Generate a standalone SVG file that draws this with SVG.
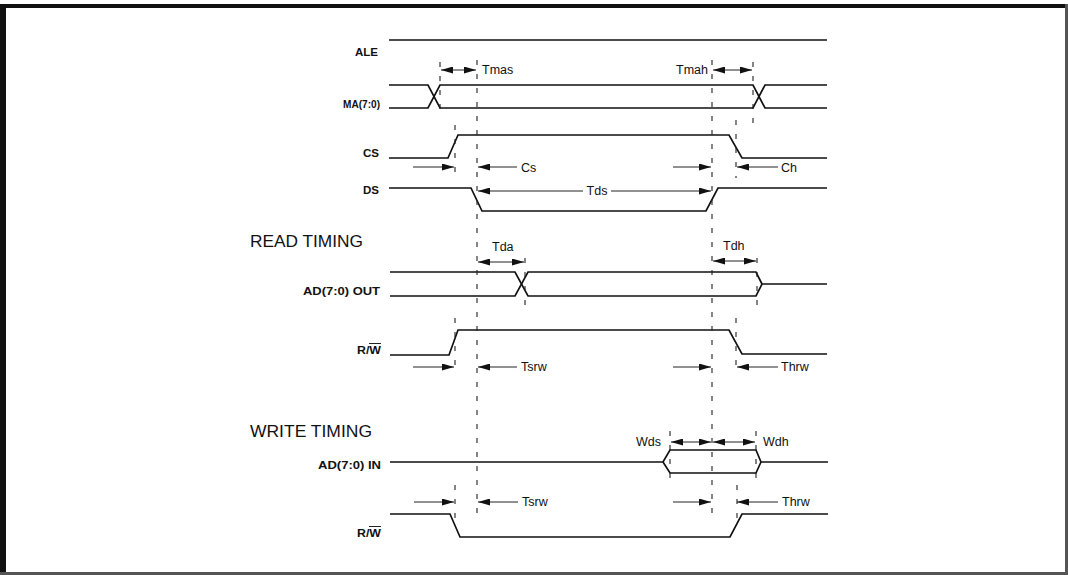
<svg xmlns="http://www.w3.org/2000/svg" width="1068" height="575" viewBox="0 0 1068 575">
<style>
.wave{fill:none;stroke:#111;stroke-width:1.7}
.dash{fill:none;stroke:#222;stroke-width:1.1;stroke-dasharray:5 9}
.dim{fill:none;stroke:#222;stroke-width:1}
.sig{font-family:"Liberation Sans",Arial,sans-serif;font-size:11px;font-weight:bold;fill:#111;text-anchor:end}
.lbl{font-family:"Liberation Sans",Arial,sans-serif;font-size:12.5px;fill:#111}
.hdr{font-family:"Liberation Sans",Arial,sans-serif;font-size:16.5px;fill:#111}
</style>
<defs>
<marker id="ah" viewBox="0 0 12 7" refX="12" refY="3.5" markerWidth="12" markerHeight="7" markerUnits="userSpaceOnUse" orient="auto-start-reverse">
<path d="M0,0 L12,3.5 L0,7 z" fill="#111"/>
</marker>
</defs>
<rect x="0" y="0" width="1068" height="575" fill="#fff"/>
<g id="border">
<rect x="0" y="4" width="1068" height="4" fill="#111"/>
<rect x="0" y="4" width="6" height="571" fill="#111"/>
<rect x="1065" y="4" width="3" height="571" fill="#555"/>
<rect x="0" y="572" width="1068" height="3" fill="#555"/>
</g>
<g id="headers">
<text class="hdr" x="250" y="247" textLength="113" lengthAdjust="spacingAndGlyphs">READ TIMING</text>
<text class="hdr" x="250" y="437" textLength="122" lengthAdjust="spacingAndGlyphs">WRITE TIMING</text>
</g>
<g id="sig-ale">
<text class="sig" x="378" y="56" textLength="23" lengthAdjust="spacingAndGlyphs">ALE</text>
<path class="wave" d="M389,40 H827"/>
</g>
<g id="sig-ma">
<text class="sig" x="380" y="108" textLength="37" lengthAdjust="spacingAndGlyphs">MA(7:0)</text>
<path class="wave" d="M389,85 H428 L440,108 H753 L765,85 H827"/>
<path class="wave" d="M389,108 H428 L440,85 H753 L765,108 H827"/>
</g>
<g id="sig-cs">
<text class="sig" x="379" y="157" textLength="16" lengthAdjust="spacingAndGlyphs">CS</text>
<path class="wave" d="M389,158 H448 L458,135 H729 L742,158 H827"/>
</g>
<g id="sig-ds">
<text class="sig" x="379" y="194" textLength="16" lengthAdjust="spacingAndGlyphs">DS</text>
<path class="wave" d="M389,188 H471 L482,211 H706 L718,188 H827"/>
</g>
<g id="sig-ad-out">
<text class="sig" x="380" y="295" textLength="77" lengthAdjust="spacingAndGlyphs">AD(7:0) OUT</text>
<path class="wave" d="M390,272 H515 L528,296 H756 L762,284 H827"/>
<path class="wave" d="M390,296 H515 L528,272 H756 L762,284"/>
</g>
<g id="sig-rw-read">
<text class="sig" x="381" y="354" textLength="24" lengthAdjust="spacingAndGlyphs">R/W</text>
<path class="dim" d="M369,343.5 H381"/>
<path class="wave" d="M390,355 H449 L458,330 H729 L742,354 H827"/>
</g>
<g id="sig-ad-in">
<text class="sig" x="381" y="469" textLength="63" lengthAdjust="spacingAndGlyphs">AD(7:0) IN</text>
<path class="wave" d="M390,462 H663 L670,450 H756 L761,462 H828"/>
<path class="wave" d="M663,462 L670,473 H756 L761,462"/>
</g>
<g id="sig-rw-write">
<text class="sig" x="381" y="537" textLength="24" lengthAdjust="spacingAndGlyphs">R/W</text>
<path class="dim" d="M369,526.5 H381"/>
<path class="wave" d="M390,514 H450 L460,537 H730 L742,514 H828"/>
</g>
<g id="guides">
<path class="dash" d="M477,60 V522"/>
<path class="dash" d="M712,60 V522"/>
<path class="dash" d="M440,62 V116"/>
<path class="dash" d="M753,62 V131"/>
<path class="dash" d="M455,125 V177"/>
<path class="dash" d="M736,120 V178"/>
<path class="dash" d="M525,258 V311"/>
<path class="dash" d="M757,258 V311"/>
<path class="dash" d="M455,318 V372"/>
<path class="dash" d="M736,318 V372"/>
<path class="dash" d="M670,431 V481"/>
<path class="dash" d="M756,431 V481"/>
<path class="dash" d="M455,485 V521"/>
<path class="dash" d="M737,485 V521"/>
</g>
<g id="connectors">
<path class="dim" d="M452,70 H465" />
<path class="dim" d="M441,70 H452" marker-start="url(#ah)"/>
<path class="dim" d="M465,70 H476" marker-end="url(#ah)"/>
<text class="lbl" x="482" y="74">Tmas</text>
<path class="dim" d="M713,70 H752" marker-start="url(#ah)" marker-end="url(#ah)"/>
<text class="lbl" x="708" y="74" text-anchor="end">Tmah</text>
<path class="dim" d="M413,167 H454" marker-end="url(#ah)"/>
<path class="dim" d="M517,167 H478" marker-end="url(#ah)"/>
<text class="lbl" x="521" y="172">Cs</text>
<path class="dim" d="M673,167 H711" marker-end="url(#ah)"/>
<path class="dim" d="M778,167 H737" marker-end="url(#ah)"/>
<text class="lbl" x="781" y="172">Ch</text>
<path class="dim" d="M583,191 H478" marker-end="url(#ah)"/>
<path class="dim" d="M611,191 H711" marker-end="url(#ah)"/>
<text class="lbl" x="597" y="195" text-anchor="middle">Tds</text>
<path class="dim" d="M478,262 H524" marker-start="url(#ah)" marker-end="url(#ah)"/>
<text class="lbl" x="492" y="251">Tda</text>
<path class="dim" d="M713,261 H756" marker-start="url(#ah)" marker-end="url(#ah)"/>
<text class="lbl" x="723" y="250">Tdh</text>
<path class="dim" d="M413,367 H454" marker-end="url(#ah)"/>
<path class="dim" d="M517,367 H478" marker-end="url(#ah)"/>
<text class="lbl" x="521" y="371">Tsrw</text>
<path class="dim" d="M673,367 H711" marker-end="url(#ah)"/>
<path class="dim" d="M778,367 H737" marker-end="url(#ah)"/>
<text class="lbl" x="781" y="371">Thrw</text>
<path class="dim" d="M671,442 H711" marker-start="url(#ah)" marker-end="url(#ah)"/>
<path class="dim" d="M713,442 H755" marker-start="url(#ah)" marker-end="url(#ah)"/>
<text class="lbl" x="661" y="446" text-anchor="end">Wds</text>
<text class="lbl" x="763" y="446">Wdh</text>
<path class="dim" d="M414,502 H454" marker-end="url(#ah)"/>
<path class="dim" d="M518,502 H478" marker-end="url(#ah)"/>
<text class="lbl" x="522" y="506">Tsrw</text>
<path class="dim" d="M673,502 H711" marker-end="url(#ah)"/>
<path class="dim" d="M778,502 H737" marker-end="url(#ah)"/>
<text class="lbl" x="782" y="506">Thrw</text>
</g>
</svg>
